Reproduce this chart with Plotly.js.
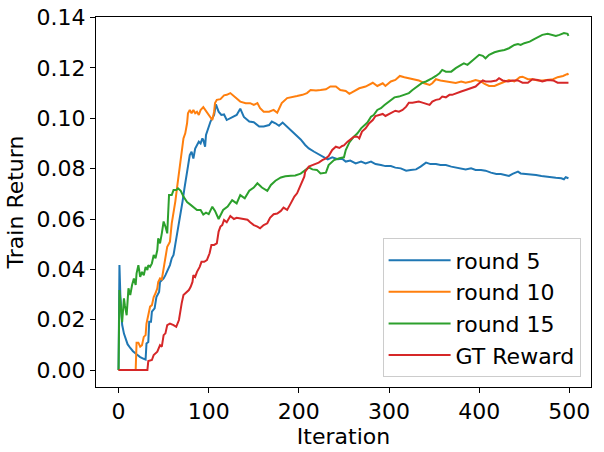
<!DOCTYPE html>
<html>
<head>
<meta charset="utf-8">
<script src="https://cdn.plot.ly/plotly-3.0.1.min.js"></script>
<style>html,body{margin:0;padding:0;background:#fff;}#chart{width:604px;height:452px;}</style>
</head>
<body>
<div id="chart"></div>
<script>
// Series names
const seriesNames = ["round 5", "round 10", "round 15", "GT Reward"];

// round 5
const iterRound5 = [0,1,2,3,4,6,8,10,13,16,20,24,28,30,31,33,34,36,37,40,42,45,46,50,52,55,57,59,61,63,65,67,69,71,73,75,77,79,81,83,85,87,89,91,93,94,96,97,100,102,104,106,108,111,114,117,120,124,128,131,135,139,145,150,156,161,167,170,174,178,182,185,191,196,202,207,211,217,222,228,232,237,243,248,252,257,263,269,274,280,285,291,296,302,307,313,319,324,330,335,341,346,352,357,363,369,374,380,385,391,396,402,407,413,419,424,430,433,437,443,446,452,457,463,469,474,480,485,491,494,496,499];
const valRound5 = [0,0.0417,0.030,0.022,0.018,0.0145,0.012,0.0103,0.0088,0.0075,0.0063,0.0052,0.0045,0.0042,0.0106,0.0112,0.0192,0.0192,0.0232,0.0245,0.029,0.031,0.035,0.0364,0.0377,0.040,0.0417,0.0444,0.0457,0.050,0.054,0.058,0.062,0.067,0.072,0.076,0.080,0.0854,0.0867,0.084,0.088,0.0894,0.0907,0.090,0.092,0.0914,0.0887,0.0934,0.0967,0.0987,0.100,0.1013,0.1055,0.1026,0.1013,0.1015,0.0993,0.100,0.1006,0.1013,0.1038,0.1005,0.0987,0.0984,0.0967,0.0967,0.0973,0.0987,0.098,0.097,0.0983,0.0973,0.0954,0.0934,0.0916,0.0894,0.088,0.0867,0.0858,0.0845,0.0837,0.0845,0.0837,0.0839,0.0828,0.0832,0.0821,0.0828,0.0821,0.0828,0.0818,0.0814,0.081,0.081,0.0804,0.0801,0.0792,0.0795,0.0797,0.0808,0.0824,0.0818,0.0818,0.0814,0.0814,0.0808,0.0805,0.0803,0.0797,0.0801,0.0795,0.0795,0.0792,0.0784,0.0779,0.0779,0.0775,0.0771,0.0779,0.0788,0.0781,0.0779,0.0779,0.0775,0.0771,0.0768,0.0766,0.0764,0.0762,0.0758,0.0766,0.0762];

// round 10
const iterRound10 = [0,19,20,22,24,26,28,30,31,33,35,37,39,41,43,44,46,48,50,52,54,56,57,59,61,63,65,67,69,70,72,74,76,77,79,81,83,85,87,89,91,94,96,98,101,104,106,107,109,113,117,120,124,127,130,135,141,146,150,154,157,161,167,172,176,181,187,193,198,204,209,213,219,224,230,235,241,246,252,256,261,267,274,282,287,293,296,302,307,312,317,322,328,333,339,345,348,352,357,363,369,374,380,385,391,396,402,406,411,417,422,428,433,439,445,448,454,459,465,470,476,482,487,493,498,499];
const valRound10 = [0,0,0.0109,0.0109,0.0093,0.0099,0.0132,0.0139,0.0185,0.0219,0.0252,0.0258,0.029,0.0305,0.0325,0.035,0.0364,0.036,0.0404,0.0457,0.049,0.0503,0.051,0.0583,0.0622,0.067,0.0728,0.078,0.082,0.0854,0.092,0.094,0.098,0.102,0.1033,0.102,0.1033,0.102,0.1026,0.1013,0.1033,0.1044,0.1033,0.1026,0.1006,0.0993,0.1026,0.106,0.1073,0.1076,0.1091,0.1093,0.110,0.109,0.108,0.1066,0.106,0.106,0.1053,0.106,0.104,0.1026,0.1026,0.1033,0.1022,0.106,0.108,0.1086,0.1088,0.1093,0.110,0.1112,0.111,0.1112,0.1115,0.1126,0.1126,0.1112,0.1108,0.1097,0.1106,0.1119,0.1126,0.1141,0.1128,0.1139,0.1128,0.1146,0.1152,0.1168,0.1163,0.1159,0.1152,0.115,0.1139,0.1132,0.1139,0.1155,0.115,0.1146,0.1143,0.114,0.1146,0.1141,0.1146,0.1152,0.1146,0.1136,0.1128,0.1128,0.1136,0.1146,0.1152,0.1146,0.1163,0.1165,0.1155,0.1155,0.115,0.115,0.1152,0.1155,0.1163,0.1168,0.1176,0.1172];

// round 15
const iterRound15 = [0,1,4,6,7,9,11,13,15,17,19,20,22,24,26,28,30,32,33,35,37,39,41,43,44,46,48,50,52,54,56,59,61,64,66,69,72,76,80,83,87,91,94,97,100,104,107,111,116,121,126,131,135,140,145,150,154,159,165,169,174,180,185,191,196,202,207,211,215,220,224,230,233,239,245,250,252,256,261,265,269,272,276,280,283,287,291,295,300,306,311,317,322,326,332,337,341,345,348,352,356,359,363,369,374,380,383,387,391,396,400,404,407,411,417,422,428,433,439,443,446,450,456,461,467,470,476,482,485,489,494,498,499];
const valRound15 = [0,0.0318,0.019,0.0285,0.0258,0.0218,0.0325,0.0298,0.0338,0.0364,0.0338,0.0384,0.0417,0.037,0.039,0.0377,0.041,0.0397,0.0417,0.041,0.0424,0.0457,0.0444,0.0477,0.0523,0.0503,0.0543,0.059,0.057,0.0543,0.0695,0.0695,0.0715,0.0715,0.0722,0.0712,0.0689,0.0667,0.0656,0.0646,0.0636,0.0636,0.0618,0.0625,0.0619,0.0649,0.0632,0.0600,0.0636,0.0649,0.0675,0.0662,0.0695,0.0682,0.0712,0.0725,0.0742,0.0725,0.0712,0.0735,0.0752,0.0765,0.077,0.0772,0.0773,0.078,0.0795,0.0805,0.0797,0.0795,0.0781,0.0784,0.0814,0.0834,0.0841,0.0845,0.0874,0.0904,0.0927,0.094,0.096,0.0969,0.0983,0.1006,0.1013,0.1033,0.104,0.1053,0.1066,0.1083,0.1086,0.1093,0.110,0.1112,0.1126,0.1141,0.1146,0.1152,0.1159,0.1168,0.1179,0.1192,0.1185,0.1185,0.1199,0.1212,0.1218,0.1212,0.1225,0.1238,0.1252,0.1248,0.1238,0.1252,0.1262,0.1267,0.1271,0.1278,0.1291,0.1295,0.1291,0.1298,0.1304,0.1314,0.1324,0.1331,0.1335,0.1331,0.1327,0.1331,0.1338,0.1335,0.1327];

// GT Reward
const iterGT = [0,32,33,37,39,43,46,48,50,52,54,57,61,64,67,69,70,72,74,78,80,82,83,85,87,90,92,95,98,101,103,106,109,111,113,115,117,120,124,128,131,135,139,143,146,150,154,157,161,165,168,172,176,180,183,187,191,195,198,202,206,207,211,215,219,222,226,230,233,237,241,245,248,250,254,257,261,265,267,270,274,278,282,285,289,293,296,300,304,307,311,315,319,322,326,330,333,337,341,345,348,352,356,359,363,367,370,374,378,380,385,391,396,400,404,407,413,419,422,426,432,437,443,448,454,459,465,470,476,482,487,493,498,499];
const valGT = [0,0,0.0036,0.004,0.006,0.0073,0.0099,0.0093,0.0139,0.0146,0.0179,0.0185,0.0179,0.0172,0.0199,0.0252,0.0265,0.0298,0.0305,0.0318,0.0331,0.035,0.0377,0.037,0.039,0.041,0.043,0.043,0.0437,0.0464,0.0497,0.0497,0.0503,0.055,0.057,0.0576,0.0596,0.0587,0.0612,0.0600,0.0605,0.0602,0.0597,0.0597,0.0587,0.0576,0.0570,0.0563,0.0576,0.0583,0.0605,0.0619,0.0622,0.0632,0.0645,0.0636,0.0662,0.0689,0.0702,0.0735,0.0768,0.0788,0.0808,0.0814,0.0818,0.0824,0.0834,0.0841,0.085,0.0874,0.0887,0.0882,0.089,0.0892,0.0907,0.0917,0.0927,0.0927,0.092,0.0947,0.096,0.098,0.0993,0.1009,0.1013,0.1017,0.1009,0.1017,0.1022,0.103,0.1026,0.1033,0.1046,0.1062,0.1062,0.1066,0.1066,0.1062,0.1057,0.1053,0.1066,0.1073,0.1076,0.1086,0.1083,0.1093,0.1093,0.1099,0.1106,0.1106,0.1112,0.1119,0.1126,0.1139,0.115,0.1146,0.1146,0.115,0.1159,0.115,0.1146,0.115,0.115,0.1141,0.1141,0.1155,0.1152,0.1146,0.1152,0.115,0.1141,0.1141,0.1141,0.1141];

// Axis ticks
const xTickVals = [0, 100, 200, 300, 400, 500];
const yTickVals = [0.00, 0.02, 0.04, 0.06, 0.08, 0.10, 0.12, 0.14];

const colors = ["#1f77b4", "#ff7f0e", "#2ca02c", "#d62728"];
const xs = [iterRound5, iterRound10, iterRound15, iterGT];
const ys = [valRound5, valRound10, valRound15, valGT];

const traces = seriesNames.map((name, i) => ({
  type: "scatter",
  mode: "lines",
  name: name,
  legendgroup: "g" + i,
  x: xs[i],
  y: ys[i],
  line: {color: colors[i], width: 2}
}));

const font = "DejaVu Sans, sans-serif";
const fs = 22;
const axisCommon = {
  showgrid: false,
  zeroline: false,
  showline: true,
  linecolor: "#000",
  linewidth: 1,
  mirror: true,
  ticks: "outside",
  ticklen: 5,
  tickwidth: 1,
  tickcolor: "#000",
  tickfont: {family: font, size: fs, color: "#000"}
};

const layout = {
  width: 604,
  height: 452,
  margin: {l: 96, r: 13, t: 17, b: 65, pad: 0},
  paper_bgcolor: "#fff",
  plot_bgcolor: "#fff",
  font: {family: font, color: "#000"},
  showlegend: true,
  xaxis: Object.assign({}, axisCommon, {
    range: [-25, 524],
    tickvals: xTickVals,
    ticktext: xTickVals.map(String),
    title: {text: "Iteration", font: {family: font, size: fs, color: "#000"}, standoff: 0}
  }),
  yaxis: Object.assign({}, axisCommon, {
    range: [-0.0067, 0.1402],
    tickvals: yTickVals,
    ticktext: yTickVals.map(v => v.toFixed(2)),
    title: {text: "Train Return", font: {family: font, size: fs, color: "#000"}, standoff: 6}
  }),
  legend: {
    x: 0.979,
    y: 0.026,
    xanchor: "right",
    yanchor: "bottom",
    bgcolor: "rgba(255,255,255,0.8)",
    bordercolor: "#cccccc",
    borderwidth: 1,
    tracegroupgap: 0,
    itemwidth: 62,
    font: {family: font, size: fs, color: "#000"}
  }
};

Plotly.newPlot("chart", traces, layout, {staticPlot: true, displayModeBar: false});
</script>
</body>
</html>
